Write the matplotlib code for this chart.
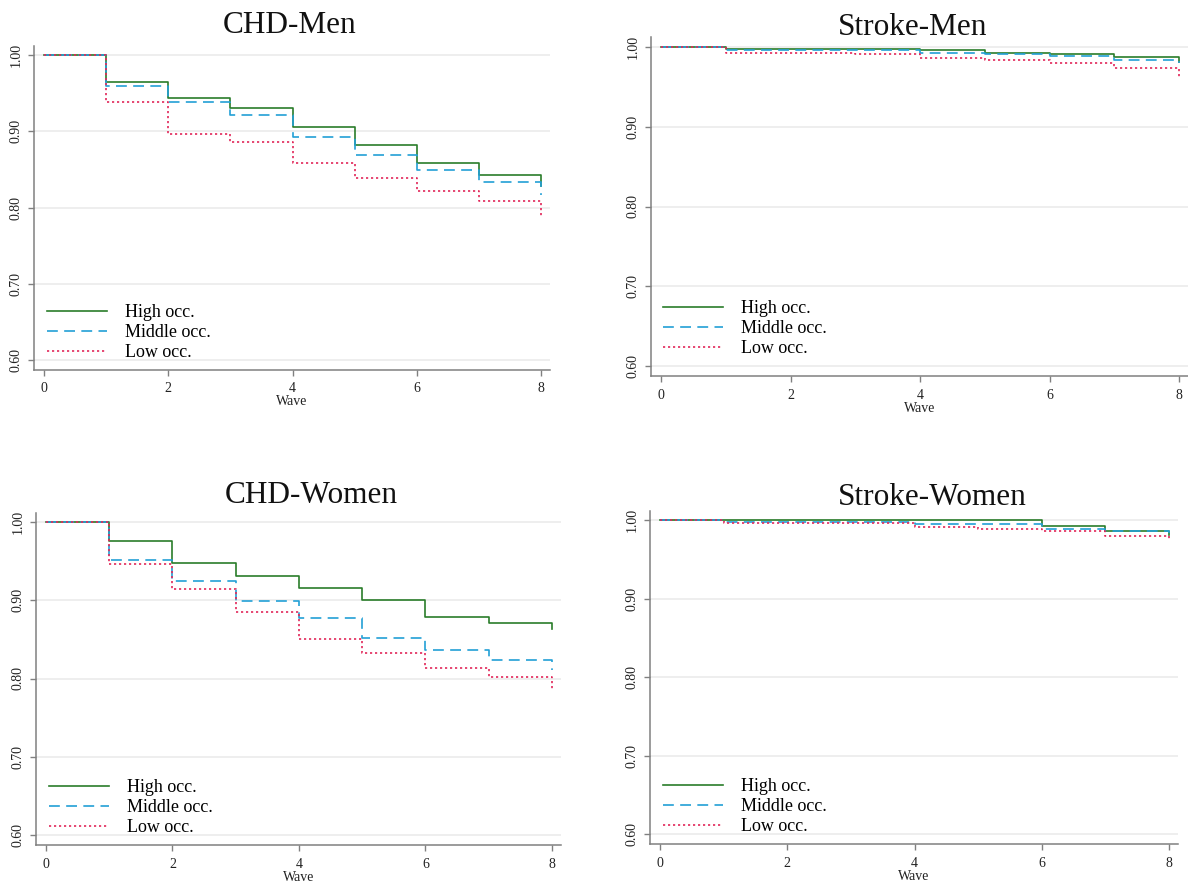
import matplotlib
matplotlib.use("Agg")
import matplotlib.pyplot as plt
from matplotlib.ticker import FormatStrFormatter

plt.rcParams['font.family'] = ['Liberation Serif', 'DejaVu Serif']

W, H = 1188, 885

waves = [0, 1, 2, 3, 4, 5, 6, 7, 8]
group_labels = ["High occ.", "Middle occ.", "Low occ."]
panel_titles = ["CHD-Men", "Stroke-Men", "CHD-Women", "Stroke-Women"]
y_ticks = [0.60, 0.70, 0.80, 0.90, 1.00]
x_ticks = [0, 2, 4, 6, 8]

chd_men_high = [1.0, 0.964, 0.944, 0.930, 0.905, 0.882, 0.859, 0.843, 0.828]
chd_men_mid = [1.0, 0.960, 0.939, 0.921, 0.892, 0.869, 0.849, 0.834, 0.817]
chd_men_low = [1.0, 0.938, 0.896, 0.886, 0.859, 0.839, 0.821, 0.808, 0.786]

stroke_men_high = [1.0, 0.998, 0.998, 0.998, 0.996, 0.993, 0.991, 0.9876, 0.981]
stroke_men_mid = [1.0, 0.9966, 0.9966, 0.9957, 0.9927, 0.9918, 0.9884, 0.9837, 0.980]
stroke_men_low = [1.0, 0.9927, 0.9927, 0.9918, 0.9867, 0.9837, 0.980, 0.9738, 0.9605]

chd_women_high = [1.0, 0.976, 0.947, 0.931, 0.916, 0.900, 0.879, 0.871, 0.863]
chd_women_mid = [1.0, 0.952, 0.924, 0.899, 0.877, 0.852, 0.837, 0.824, 0.811]
chd_women_low = [1.0, 0.946, 0.914, 0.885, 0.851, 0.832, 0.814, 0.802, 0.787]

stroke_women_high = [1.0, 0.9995, 0.9995, 0.9995, 0.9995, 0.9995, 0.992, 0.986, 0.981]
stroke_women_mid = [1.0, 0.997, 0.997, 0.997, 0.9945, 0.9945, 0.989, 0.986, 0.983]
stroke_women_low = [1.0, 0.9966, 0.9966, 0.996, 0.9915, 0.9886, 0.9864, 0.979, 0.976]

panels = [
    (chd_men_high, chd_men_mid, chd_men_low),
    (stroke_men_high, stroke_men_mid, stroke_men_low),
    (chd_women_high, chd_women_mid, chd_women_low),
    (stroke_women_high, stroke_women_mid, stroke_women_low),
]

colors = ['#2a7d2a', '#22a0d6', '#e2285a']
lw = 1.2
styles = ['-', (0, (6.5, 3.8)), (0, (1.3, 1.7))]

XMIN, XMAX = -0.16, 8.14
YMIN, YMAX = 0.587, 1.012

# pixel layout: x=0 px, x=8 px, y=1.00 px, y=0.60 px
layout = [
    (44, 541, 55, 360),
    (661, 1179, 47, 366),
    (46, 552, 522, 835),
    (660, 1169, 520, 834),
]
# title center x px, baseline y px
title_pos = [(290, 33), (913, 35), (311, 503), (932, 505)]
# legend anchor (axes fraction x, axes fraction y, borderaxespad)
legend_anchor = [(0.008, 0.0, 0.1), (0.0, 0.02, 0.3), (0.008, 0.0, 0.1), (0.008, 0.0, 0.1)]

fig = plt.figure(figsize=(W / 100, H / 100), dpi=100)

for i, (x0, x8, y1, y6) in enumerate(layout):
    sx = (x8 - x0) / 8.0
    sy = (y6 - y1) / 0.4
    left = x0 + XMIN * sx
    right = x0 + XMAX * sx
    top = y1 - (YMAX - 1.0) * sy
    bottom = y1 + (1.0 - YMIN) * sy
    ax = fig.add_axes([left / W, 1 - bottom / H, (right - left) / W, (bottom - top) / H])
    ax.set_xlim(XMIN, XMAX)
    ax.set_ylim(YMIN, YMAX)

    for yt in y_ticks:
        ax.axhline(yt, color='#e9e9e9', lw=1.1, zorder=0)

    series = panels[i]
    for s, c, ls, lab in zip(series, colors, styles, group_labels):
        ax.plot(waves, s, drawstyle='steps-post', color=c, lw=lw, linestyle=ls, label=lab)

    for sp in ['top', 'right']:
        ax.spines[sp].set_visible(False)
    for sp in ['left', 'bottom']:
        ax.spines[sp].set_color('#808080')
        ax.spines[sp].set_linewidth(1.1)

    ax.set_yticks(y_ticks)
    ax.set_xticks(x_ticks)
    ax.yaxis.set_major_formatter(FormatStrFormatter('%.2f'))
    ax.tick_params(axis='both', colors='#808080', length=4, width=1.0, labelcolor='#222222', labelsize=10)
    ax.tick_params(axis='y', pad=4)
    ax.tick_params(axis='x', pad=5)
    for t in ax.get_yticklabels():
        t.set_rotation(90)
        t.set_va('center')
    ax.set_xlabel('Wave', fontsize=10, labelpad=0, color='#222222')

    lx, ly, lpad = legend_anchor[i]
    ax.legend(loc='lower left', bbox_to_anchor=(lx, ly), frameon=False,
              fontsize=13, handlelength=3.3, handletextpad=1.0, labelspacing=0.16,
              borderaxespad=lpad)

    tx, ty = title_pos[i]
    fig.text(tx / W, 1 - ty / H, panel_titles[i], ha='center', va='baseline', fontsize=22.5, color='#111111')

fig.savefig('out.png', dpi=100)
